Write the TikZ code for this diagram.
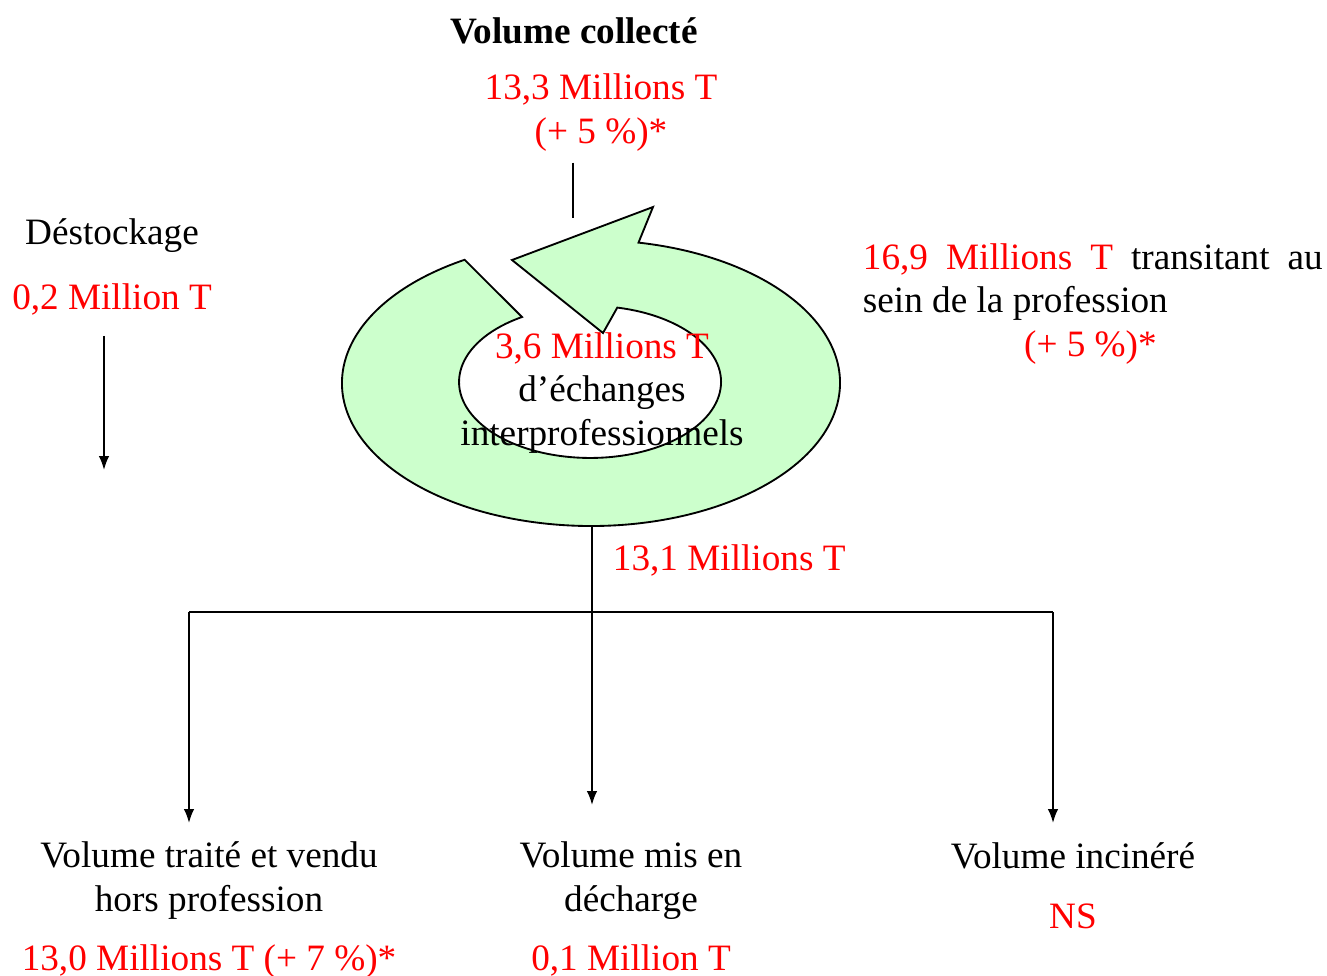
\documentclass[tikz,border=0pt]{standalone}
\usepackage{fontspec}
\setmainfont{Liberation Serif}
\usetikzlibrary{arrows.meta}
\definecolor{vertclair}{HTML}{CCFFCC}
\begin{document}
\begin{tikzpicture}[x=0.3225pt,y=-0.3225pt,line width=0.6pt,>={Latex[length=4.5pt,width=3.4pt]},
  txt/.style={font=\fontsize{12}{13.9}\selectfont,inner sep=0pt,anchor=base,align=center},
  rouge/.style={txt,text=red}]
\useasboundingbox (0,0) rectangle (1327,975);
\draw[fill=vertclair] (638.5,242.6) arc[start angle=-79,end angle=239.5,x radius=249,y radius=143]
  -- (522,317) arc[start angle=238.7,end angle=-78,x radius=131,y radius=76]
  -- (603,333) -- (512,260) -- (653,207) -- cycle;
\node[txt] (collecte) at (574,43) {\bfseries Volume collecté};
\node[rouge] (vol) at (601,143) {13,3 Millions T\\(+ 5 \%)*};
\node[txt] (destock) at (112,244) {Déstockage};
\node[rouge] (destval) at (112,309) {0,2 Million T};
\node[txt,anchor=base west,align=left] (transit) at (862,356)
  {\makebox[148.3pt][s]{\textcolor{red}{16,9 Millions T} transitant au}\\
   sein de la profession\\
   \hspace*{52pt}\textcolor{red}{(+ 5 \%)*}};
\node[txt] (echanges) at (602,445) {\textcolor{red}{3,6 Millions T}\\d’échanges\\interprofessionnels};
\node[rouge,anchor=base west] (sortie) at (612,570) {13,1 Millions T};
\node[txt] (traite) at (209,911) {Volume traité et vendu\\hors profession};
\node[rouge] (traiteval) at (209,970) {13,0 Millions T (+ 7 \%)*};
\node[txt] (decharge) at (631,911) {Volume mis en\\décharge};
\node[rouge] (dechargeval) at (631,970) {0,1 Million T};
\node[txt] (incinere) at (1073,868) {Volume incinéré};
\node[rouge] (incinereval) at (1073,928) {NS};
\coordinate (haut) at (573,218);
\coordinate (destfin) at (104,470);
\coordinate (bas) at (592,526);
\coordinate (j) at (592,612);
\coordinate (g) at (189,612);
\coordinate (dr) at (1053,612);
\draw ([yshift=-3.5pt]vol.south -| haut) -- (haut);
\draw[->] ([yshift=-6.5pt]destval.south -| destfin) -- (destfin);
\draw (bas) -- (j);
\draw (g) -- (dr);
\draw[->] (j) -- (j |- 0,805);
\draw[->] (g) -- (g |- 0,823);
\draw[->] (dr) -- (dr |- 0,823);
\end{tikzpicture}
\end{document}
